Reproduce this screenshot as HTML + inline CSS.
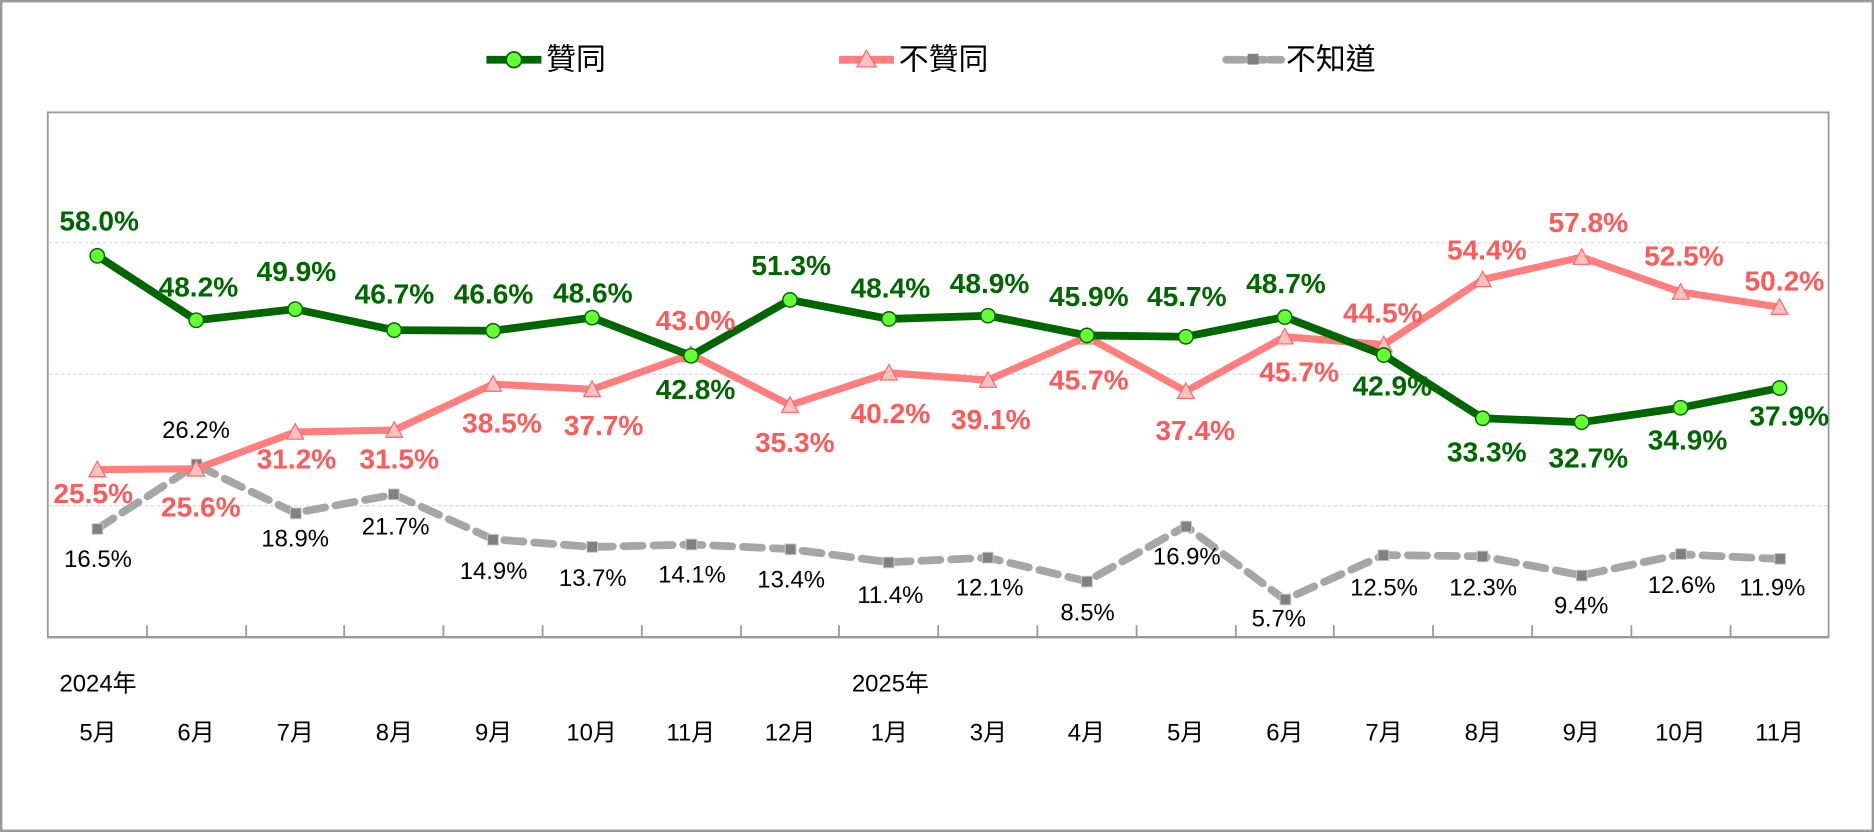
<!DOCTYPE html>
<html><head><meta charset="utf-8"><style>
html,body{margin:0;padding:0;background:#fff;}
svg{display:block;}
text{font-family:"Liberation Sans","Noto Sans CJK TC",sans-serif;}
.g{fill:#006600;font-weight:bold;font-size:23.5px;text-anchor:middle;dominant-baseline:central;}
.r{fill:#ff5a5a;font-weight:bold;font-size:23.5px;text-anchor:middle;dominant-baseline:central;}
.k{fill:#000;font-size:20px;text-anchor:middle;dominant-baseline:central;}
.m{fill:#000;font-size:20px;text-anchor:middle;dominant-baseline:central;}
</style></head><body>
<svg width="1874" height="832" viewBox="0 0 1568 696" preserveAspectRatio="none" xmlns="http://www.w3.org/2000/svg">
<rect x="1" y="1" width="1566" height="694" fill="#fff" stroke="#999" stroke-width="2"/>
<!-- legend -->
<line x1="407" y1="50" x2="453" y2="50" stroke="#006600" stroke-width="6.5"/>
<circle cx="430" cy="50" r="6.5" fill="#66ff33" stroke="#006600" stroke-width="1.5"/>
<text x="457" y="50" font-size="25" dominant-baseline="central">贊同</text>
<line x1="702" y1="50" x2="748" y2="50" stroke="#ff7f7f" stroke-width="6.5"/>
<polygon points="725,42 733,56 717,56" fill="#ffc0c0" stroke="#ff6666"/>
<text x="752" y="50" font-size="25" dominant-baseline="central">不贊同</text>
<line x1="1026" y1="50" x2="1072" y2="50" stroke="#a6a6a6" stroke-width="6.5" stroke-dasharray="14 4" stroke-linecap="round"/>
<rect x="1044" y="45" width="9" height="9" fill="#808080"/>
<text x="1076" y="50" font-size="25" dominant-baseline="central">不知道</text>
<!-- plot -->
<rect x="40" y="94" width="1490" height="439" fill="#fff" stroke="#999" stroke-width="1.5"/>
<g stroke="#d9d9d9" stroke-dasharray="3 2" stroke-width="1">
<line x1="41" y1="203" x2="1529" y2="203"/><line x1="41" y1="313" x2="1529" y2="313"/><line x1="41" y1="423" x2="1529" y2="423"/>
</g>
<line x1="40" y1="533" x2="1530" y2="533" stroke="#999" stroke-width="2"/>
<g stroke="#999" stroke-width="1.5">
<line x1="123" y1="533" x2="123" y2="523"/><line x1="206" y1="533" x2="206" y2="523"/><line x1="288" y1="533" x2="288" y2="523"/><line x1="371" y1="533" x2="371" y2="523"/><line x1="454" y1="533" x2="454" y2="523"/><line x1="537" y1="533" x2="537" y2="523"/><line x1="620" y1="533" x2="620" y2="523"/><line x1="702" y1="533" x2="702" y2="523"/><line x1="785" y1="533" x2="785" y2="523"/><line x1="868" y1="533" x2="868" y2="523"/><line x1="951" y1="533" x2="951" y2="523"/><line x1="1034" y1="533" x2="1034" y2="523"/><line x1="1116" y1="533" x2="1116" y2="523"/><line x1="1199" y1="533" x2="1199" y2="523"/><line x1="1282" y1="533" x2="1282" y2="523"/><line x1="1365" y1="533" x2="1365" y2="523"/><line x1="1448" y1="533" x2="1448" y2="523"/>
</g>
<!-- gray -->
<polyline fill="none" stroke="#a6a6a6" stroke-width="6.5" stroke-dasharray="16 9" stroke-linecap="round" points="81.4,442.3 164.2,388.9 247,429.1 329.8,413.7 412.6,451.1 495.4,457.6 578.2,455.5 661,459.3 743.8,470.3 826.6,466.5 909.4,486.3 992.2,440.1 1075,501.7 1157.8,464.3 1240.6,465.4 1323.4,481.3 1406.2,463.7 1489,467.6"/>
<g fill="#808080" stroke="#ccc" stroke-width="0.8">
<rect x="77" y="438" width="9" height="9"/><rect x="160" y="384" width="9" height="9"/><rect x="243" y="425" width="9" height="9"/><rect x="325" y="409" width="9" height="9"/><rect x="408" y="447" width="9" height="9"/><rect x="491" y="453" width="9" height="9"/><rect x="574" y="451" width="9" height="9"/><rect x="657" y="455" width="9" height="9"/><rect x="739" y="466" width="9" height="9"/><rect x="822" y="462" width="9" height="9"/><rect x="905" y="482" width="9" height="9"/><rect x="988" y="436" width="9" height="9"/><rect x="1071" y="497" width="9" height="9"/><rect x="1153" y="460" width="9" height="9"/><rect x="1236" y="461" width="9" height="9"/><rect x="1319" y="477" width="9" height="9"/><rect x="1402" y="459" width="9" height="9"/><rect x="1485" y="463" width="9" height="9"/>
</g>
<!-- red -->
<polyline fill="none" stroke="#ff7f7f" stroke-width="6" stroke-linejoin="round" points="81.4,392.8 164.2,392.2 247,361.4 329.8,359.8 412.6,321.3 495.4,325.7 578.2,296.5 661,338.9 743.8,311.9 826.6,318 909.4,281.7 992.2,327.3 1075,281.7 1157.8,288.3 1240.6,233.8 1323.4,215.1 1406.2,244.3 1489,256.9"/>
<g fill="#ffc0c0" stroke="#ff6666" stroke-width="1">
<polygon points="81.4,385.8 88.4,398.8 74.4,398.8"/><polygon points="164.2,385.2 171.2,398.2 157.2,398.2"/><polygon points="247,354.4 254,367.4 240,367.4"/><polygon points="329.8,352.8 336.8,365.8 322.8,365.8"/><polygon points="412.6,314.3 419.6,327.3 405.6,327.3"/><polygon points="495.4,318.7 502.4,331.7 488.4,331.7"/><polygon points="578.2,289.5 585.2,302.5 571.2,302.5"/><polygon points="661,331.9 668,344.9 654,344.9"/><polygon points="743.8,304.9 750.8,317.9 736.8,317.9"/><polygon points="826.6,311 833.6,324 819.6,324"/><polygon points="909.4,274.7 916.4,287.7 902.4,287.7"/><polygon points="992.2,320.3 999.2,333.3 985.2,333.3"/><polygon points="1075,274.7 1082,287.7 1068,287.7"/><polygon points="1157.8,281.3 1164.8,294.3 1150.8,294.3"/><polygon points="1240.6,226.8 1247.6,239.8 1233.6,239.8"/><polygon points="1323.4,208.1 1330.4,221.1 1316.4,221.1"/><polygon points="1406.2,237.3 1413.2,250.3 1399.2,250.3"/><polygon points="1489,249.9 1496,262.9 1482,262.9"/>
</g>
<!-- green -->
<polyline fill="none" stroke="#006600" stroke-width="6.5" stroke-linejoin="round" points="81.4,214 164.2,267.9 247,258.6 329.8,276.2 412.6,276.7 495.4,265.7 578.2,297.6 661,250.9 743.8,266.8 826.6,264.1 909.4,280.6 992.2,281.7 1075,265.2 1157.8,297 1240.6,349.9 1323.4,353.2 1406.2,341.1 1489,324.6"/>
<g fill="#66ff33" stroke="#006600" stroke-width="1.2">
<circle cx="81.4" cy="214" r="6"/><circle cx="164.2" cy="267.9" r="6"/><circle cx="247" cy="258.6" r="6"/><circle cx="329.8" cy="276.2" r="6"/><circle cx="412.6" cy="276.7" r="6"/><circle cx="495.4" cy="265.7" r="6"/><circle cx="578.2" cy="297.6" r="6"/><circle cx="661" cy="250.9" r="6"/><circle cx="743.8" cy="266.8" r="6"/><circle cx="826.6" cy="264.1" r="6"/><circle cx="909.4" cy="280.6" r="6"/><circle cx="992.2" cy="281.7" r="6"/><circle cx="1075" cy="265.2" r="6"/><circle cx="1157.8" cy="297" r="6"/><circle cx="1240.6" cy="349.9" r="6"/><circle cx="1323.4" cy="353.2" r="6"/><circle cx="1406.2" cy="341.1" r="6"/><circle cx="1489" cy="324.6" r="6"/>
</g>
<!-- labels green -->
<text class="g" x="83" y="185">58.0%</text><text class="g" x="166" y="240">48.2%</text><text class="g" x="248" y="227">49.9%</text><text class="g" x="330" y="246">46.7%</text><text class="g" x="413" y="246">46.6%</text><text class="g" x="496" y="245">48.6%</text><text class="g" x="582" y="326">42.8%</text><text class="g" x="662" y="222">51.3%</text><text class="g" x="745" y="241">48.4%</text><text class="g" x="828" y="237">48.9%</text><text class="g" x="911" y="248">45.9%</text><text class="g" x="993" y="248">45.7%</text><text class="g" x="1076" y="237">48.7%</text><text class="g" x="1165" y="323">42.9%</text><text class="g" x="1244" y="378">33.3%</text><text class="g" x="1329" y="383">32.7%</text><text class="g" x="1412" y="368">34.9%</text><text class="g" x="1497" y="348">37.9%</text>
<!-- labels red -->
<text class="r" x="78" y="413">25.5%</text><text class="r" x="168" y="424">25.6%</text><text class="r" x="248" y="384">31.2%</text><text class="r" x="334" y="384">31.5%</text><text class="r" x="420" y="354">38.5%</text><text class="r" x="505" y="356">37.7%</text><text class="r" x="582" y="268">43.0%</text><text class="r" x="665" y="370">35.3%</text><text class="r" x="745" y="346">40.2%</text><text class="r" x="829" y="351">39.1%</text><text class="r" x="911" y="318">45.7%</text><text class="r" x="1000" y="360">37.4%</text><text class="r" x="1087" y="311">45.7%</text><text class="r" x="1157" y="262">44.5%</text><text class="r" x="1244" y="209">54.4%</text><text class="r" x="1329" y="186">57.8%</text><text class="r" x="1409" y="214">52.5%</text><text class="r" x="1493" y="235">50.2%</text>
<!-- labels gray -->
<text class="k" x="82" y="468">16.5%</text><text class="k" x="164" y="360">26.2%</text><text class="k" x="247" y="451">18.9%</text><text class="k" x="331" y="441">21.7%</text><text class="k" x="413" y="478">14.9%</text><text class="k" x="496" y="484">13.7%</text><text class="k" x="579" y="481">14.1%</text><text class="k" x="662" y="485">13.4%</text><text class="k" x="745" y="498">11.4%</text><text class="k" x="828" y="492">12.1%</text><text class="k" x="910" y="513">8.5%</text><text class="k" x="993" y="466">16.9%</text><text class="k" x="1070" y="518">5.7%</text><text class="k" x="1158" y="492">12.5%</text><text class="k" x="1241" y="492">12.3%</text><text class="k" x="1323" y="507">9.4%</text><text class="k" x="1407" y="490">12.6%</text><text class="k" x="1483" y="492">11.9%</text>
<!-- x labels -->
<text class="m" x="82" y="572">2024年</text><text class="m" x="745" y="572">2025年</text>
<text class="m" x="82" y="613">5月</text><text class="m" x="164" y="613">6月</text><text class="m" x="247" y="613">7月</text><text class="m" x="330" y="613">8月</text><text class="m" x="413" y="613">9月</text><text class="m" x="495" y="613">10月</text><text class="m" x="578" y="613">11月</text><text class="m" x="661" y="613">12月</text><text class="m" x="744" y="613">1月</text><text class="m" x="827" y="613">3月</text><text class="m" x="909" y="613">4月</text><text class="m" x="992" y="613">5月</text><text class="m" x="1075" y="613">6月</text><text class="m" x="1158" y="613">7月</text><text class="m" x="1241" y="613">8月</text><text class="m" x="1323" y="613">9月</text><text class="m" x="1406" y="613">10月</text><text class="m" x="1489" y="613">11月</text>
</svg>
</body></html>
